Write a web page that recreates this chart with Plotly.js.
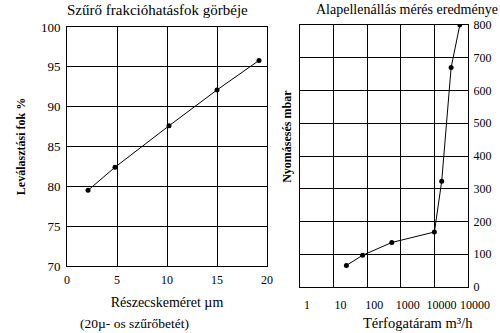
<!DOCTYPE html>
<html><head><meta charset="utf-8">
<script src="https://cdn.plot.ly/plotly-3.0.1.min.js"></script>
<style>html,body{margin:0;padding:0;background:#fff}#c{width:500px;height:333px}</style>
</head><body><div id="c"></div>
<script>
// Left chart: filter fractional efficiency
const particleSize = [2.1, 4.8, 10.2, 15.0, 19.2];
const efficiency = [79.5, 82.4, 87.6, 92.1, 95.8];
// Right chart: base resistance measurement
const flowRate = [24, 73, 540, 10000, 16500, 31500, 57000];
const pressureDrop = [66, 97, 136, 168, 323, 670, 800];
const xTickVals2 = [1, 10, 100, 1000, 10000, 100000];
const xTickText2 = ['1', '10', '100', '1000', '10000', '10000'];

const F = 'Liberation Serif, Times New Roman, serif';
const traces = [
  {x: particleSize, y: efficiency, xaxis: 'x', yaxis: 'y', mode: 'lines+markers',
   line: {color: '#000', width: 1}, marker: {color: '#000', size: 5}, showlegend: false},
  {x: flowRate, y: pressureDrop, xaxis: 'x2', yaxis: 'y2', mode: 'lines+markers',
   line: {color: '#000', width: 1}, marker: {color: '#000', size: 5}, showlegend: false}
];
const ax = {showgrid: true, gridcolor: '#000', gridwidth: 1, zeroline: false,
  showline: true, linecolor: '#000', linewidth: 1, mirror: true, ticks: '',
  tickfont: {family: F, size: 12, color: '#000'}, fixedrange: true};
const layout = {
  width: 500, height: 333, margin: {l: 0, r: 0, t: 0, b: 0},
  paper_bgcolor: '#fff', plot_bgcolor: '#fff', font: {family: F, color: '#000'},
  xaxis: Object.assign({}, ax, {domain: [0.134, 0.534], range: [0, 20], dtick: 5, tick0: 0,
    anchor: 'y', ticklabelstandoff: 3,
    title: {text: 'Részecskeméret µm', font: {family: F, size: 14}, standoff: 10}}),
  yaxis: Object.assign({}, ax, {domain: [0.201, 0.919], range: [70, 100], dtick: 5, anchor: 'x',
    tickfont: {family: F, size: 13, color: '#000'}, ticklabelstandoff: 3,
    title: {text: '<b>Leválasztási fok %</b>', font: {family: F, size: 12}, standoff: 12}}),
  xaxis2: Object.assign({}, ax, {domain: [0.6, 0.936], type: 'log', range: [0, 5],
    tickvals: xTickVals2, ticktext: xTickText2, anchor: 'y2',
    ticklabelstandoff: 7, ticklabelshift: 7}),
  yaxis2: Object.assign({}, ax, {domain: [0.138, 0.925], range: [0, 800], dtick: 100, anchor: 'x2',
    side: 'right', ticklabelstandoff: 2}),
  annotations: [
    {text: 'Szűrő frakcióhatásfok görbéje', x: 0.314, y: 1, xref: 'paper', yref: 'paper',
     xanchor: 'center', yanchor: 'top', yshift: 0, showarrow: false, font: {family: F, size: 15}},
    {text: 'Alapellenállás mérés eredménye', x: 0.814, y: 1, xref: 'paper', yref: 'paper',
     xanchor: 'center', yanchor: 'top', yshift: 0, showarrow: false, font: {family: F, size: 14}},
    {text: '(20µ- os szűrőbetét)', x: 0.268, y: 0.03, xref: 'paper', yref: 'paper',
     xanchor: 'center', yanchor: 'middle', showarrow: false, font: {family: F, size: 13.5}},
    {text: 'Térfogatáram m³/h', x: 0.836, y: 0.03, xref: 'paper', yref: 'paper',
     xanchor: 'center', yanchor: 'middle', showarrow: false, font: {family: F, size: 14.5}},
    {text: '<b>Nyomásesés mbar</b>', x: 0.574, y: 0.589, xref: 'paper', yref: 'paper',
     xanchor: 'center', yanchor: 'middle', textangle: -90, showarrow: false, font: {family: F, size: 12}}
  ]
};
Plotly.newPlot('c', traces, layout, {staticPlot: true});
</script></body></html>
